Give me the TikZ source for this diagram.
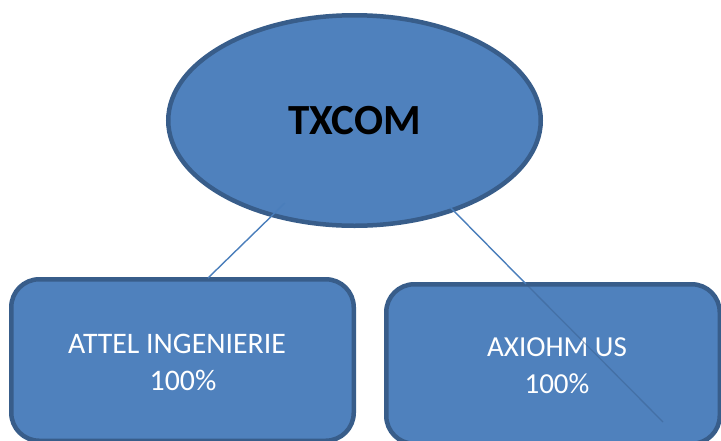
\documentclass[tikz,border=0pt]{standalone}
\usepackage{fontspec}
\setmainfont{Carlito}
\usetikzlibrary{shapes.geometric}
\definecolor{fillblue}{HTML}{4F81BD}
\definecolor{edgeblue}{HTML}{385D8A}
\definecolor{lineblue}{HTML}{4A7EBB}
\begin{document}
\begin{tikzpicture}[x=1pt,y=-1pt,
  shapebase/.style={fill=fillblue,draw=edgeblue,line width=4.5pt,inner sep=0pt,outer sep=0pt},
  topoval/.style={shapebase,ellipse,minimum width=372.5pt,minimum height=210.5pt,
     font=\fontsize{43}{47}\selectfont\bfseries,text=black},
  subbox/.style={shapebase,rectangle,rounded corners=28pt,align=center,text=white,
     font=\fontsize{29}{37}\selectfont},
  conn/.style={draw=lineblue,line width=1.4pt},
  hiddenconn/.style={draw=edgeblue,draw opacity=0.45,line width=1.3pt}]
\useasboundingbox (0,0) rectangle (721,440);
\node[topoval] (top) at (354.5,120.5) {TXCOM};
\node[subbox,minimum width=342.5pt,minimum height=161.5pt] (left) at (182.5,360) {};
\node[subbox,minimum width=333.5pt,minimum height=159.5pt] (right) at (553,364) {};
\node[text=white,font=\fontsize{29.8}{37}\selectfont,align=center] (lefttext) at (177,362) {ATTEL INGENIERIE\\\hspace*{12pt}100\%};
\node[text=white,font=\fontsize{29}{37}\selectfont,align=center] (righttext) at (557,366) {AXIOHM US\\100\%};
\coordinate (l1) at (285,203);
\coordinate (l2) at (208,278);
\coordinate (r1) at (450,207);
\coordinate (rm) at (526,284);
\coordinate (r2) at (663,422);
\draw[conn] (l1) -- (l2);
\draw[conn] (r1) -- (rm);
\draw[hiddenconn] (rm) -- (r2);
\end{tikzpicture}
\end{document}
